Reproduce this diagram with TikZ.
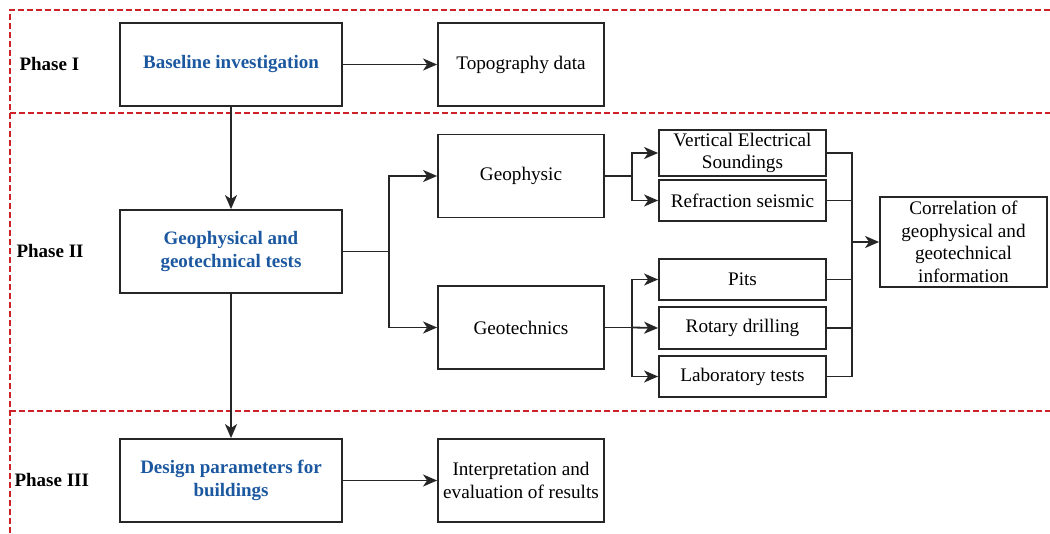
\documentclass[tikz,border=0pt]{standalone}
\usepackage{fontspec}
\setmainfont{Liberation Serif}
\usetikzlibrary{arrows.meta}
\definecolor{phaseblue}{RGB}{28,88,160}
\definecolor{dashred}{RGB}{205,35,40}
\begin{document}
\begin{tikzpicture}[x=1pt,y=-1pt,
  box/.style={draw=black!85,line width=1.8pt,inner sep=2pt,align=center,font=\fontsize{19.2}{22.5}\selectfont},
  bigbox/.style={box,minimum width=222pt,minimum height=83pt,text=phaseblue,font=\fontsize{19}{23}\selectfont\bfseries},
  midbox/.style={box,minimum width=166pt,minimum height=83pt},
  smallbox/.style={box,minimum width=167pt},
  phase/.style={anchor=west,font=\fontsize{19}{22}\selectfont\bfseries},
  conn/.style={draw=black!85,line width=1.8pt},
  arr/.style={conn,-{Stealth[length=14pt,width=12pt,inset=4pt]}},
  sep/.style={draw=dashred,line width=1.3pt,dash pattern=on 6pt off 3pt}]
\useasboundingbox (0,0) rectangle (1050,534);
% phase separators
\draw[sep] (1050,10) -- (10,10) -- (10,534);
\draw[sep] (10,113) -- (1050,113);
\draw[sep] (10,411) -- (1050,411);
% phase labels
\node[phase] (p1) at (16,64.5) {Phase I};
\node[phase] (p2) at (13,251.5) {Phase II};
\node[phase] (p3) at (11,480.5) {Phase III};
% main boxes
\node[bigbox] (base) at (231,64.5) {Baseline investigation};
\node[midbox] (topo) at (521,64.5) {Topography data};
\node[bigbox] (tests) at (231,251.5) {Geophysical and\\geotechnical tests};
\node[midbox] (geoph) at (521,176) {Geophysic};
\node[midbox] (geot) at (521,327.5) {Geotechnics};
\node[bigbox] (design) at (231,480.5) {Design parameters for\\buildings};
\node[midbox] (interp) at (521,480.5) {Interpretation and\\evaluation of results};
% small boxes
\node[smallbox,minimum height=46pt] (ves) at (742.5,153) {Vertical Electrical\\Soundings};
\node[smallbox,minimum height=41pt] (rs) at (742.5,200.5) {Refraction seismic};
\node[smallbox,minimum height=41pt] (pits) at (742.5,279.5) {Pits};
\node[smallbox,minimum height=42pt] (rot) at (742.5,328) {Rotary drilling};
\node[smallbox,minimum height=41pt] (lab) at (742.5,376.5) {Laboratory tests};
\node[box,minimum width=167pt,minimum height=90pt] (corr) at (963.5,242) {Correlation of\\geophysical and\\geotechnical\\information};
% junctions
\coordinate (j1) at (389,251.5);
\coordinate (j2) at (632,176);
\coordinate (j3) at (632,327.5);
\coordinate (c) at (852,242);
% connectors
\draw[arr] (base) -- (topo);
\draw[arr] (base) -- (tests);
\draw[arr] (tests) -- (design);
\draw[arr] (design) -- (interp);
\draw[conn] (tests.east) -- (j1);
\draw[arr] (j1) |- (geoph.west);
\draw[arr] (j1) |- (geot.west);
\draw[conn] (geoph.east) -- (j2);
\draw[arr] (j2) |- (ves.west);
\draw[arr] (j2) |- (rs.west);
\draw[conn] (geot.east) -- (j3);
\draw[arr] (j3) |- (pits.west);
\draw[arr] (j3) -- (rot.west);
\draw[arr] (j3) |- (lab.west);
\draw[conn] (ves.east) -| (c);
\draw[conn] (rs.east) -| (c);
\draw[conn] (pits.east) -| (c);
\draw[conn] (rot.east) -| (c);
\draw[conn] (lab.east) -| (c);
\draw[arr] (c) -- (corr.west);
\end{tikzpicture}
\end{document}
